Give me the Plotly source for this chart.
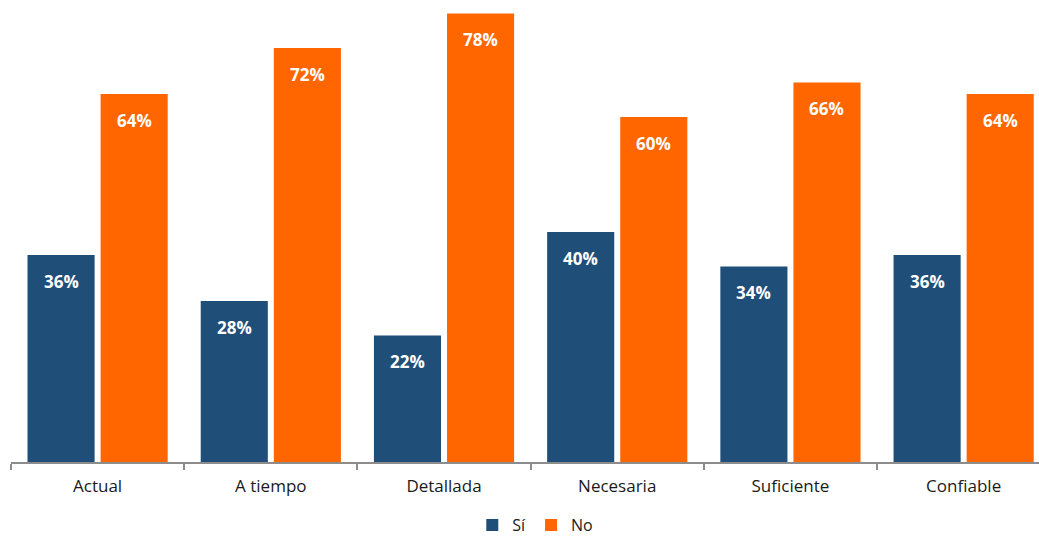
import plotly.graph_objects as go

# Survey attributes and share of answers
categories = ["Actual", "A tiempo", "Detallada", "Necesaria", "Suficiente", "Confiable"]
si_values = [36, 28, 22, 40, 34, 36]
no_values = [64, 72, 78, 60, 66, 64]
series_names = ["Sí", "No"]

BLUE = "#1F4E79"
ORANGE = "#FF6600"
FONT = "Open Sans"

fig = go.Figure()
fig.add_trace(go.Bar(
    x=categories, y=si_values, name=series_names[0],
    marker=dict(color=BLUE, line=dict(width=0)),
    hoverinfo="skip",
))
fig.add_trace(go.Bar(
    x=categories, y=no_values, name=series_names[1],
    marker=dict(color=ORANGE, line=dict(width=0)),
    hoverinfo="skip",
))

# Percentage labels a little below each bar top
label_font = dict(family=FONT, size=17, color="white", weight="bold")
annotations = []
for cat, v in zip(categories, si_values):
    annotations.append(dict(x=cat, y=v, xref="x", yref="y", text=f"{v}%",
                            showarrow=False, xshift=-36.5, yshift=-26, font=label_font))
for cat, v in zip(categories, no_values):
    annotations.append(dict(x=cat, y=v, xref="x", yref="y", text=f"{v}%",
                            showarrow=False, xshift=36.5, yshift=-26, font=label_font))

fig.update_layout(
    width=1039, height=537,
    margin=dict(l=11, r=0, t=0, b=75, autoexpand=False),
    paper_bgcolor="white", plot_bgcolor="white",
    barmode="group", bargap=0.156, bargroupgap=0.082,
    font=dict(family=FONT, size=16, color="#1a1a1a"),
    annotations=annotations,
    showlegend=True,
    legend=dict(orientation="h", x=0.51, xanchor="center",
                yref="container", y=0.022, yanchor="middle",
                font=dict(family=FONT, size=16, color="#1a1a1a"),
                itemwidth=30, tracegroupgap=0, traceorder="normal"),
    xaxis=dict(
        type="category", range=[-0.5, 5.435], automargin=False,
        showline=True, linecolor="#8c8c8c", linewidth=1.5,
        ticks="outside", tickson="boundaries", ticklen=6, tickcolor="#8c8c8c", tickwidth=1.5,
        tickfont=dict(family=FONT, size=17, color="#1a1a1a"),
        ticklabelstandoff=8,
        showgrid=False, zeroline=False, fixedrange=True,
    ),
    yaxis=dict(
        range=[0, 80.35], visible=False, showgrid=False, zeroline=False,
        fixedrange=True, automargin=False,
    ),
)

fig.write_html("out.html")
